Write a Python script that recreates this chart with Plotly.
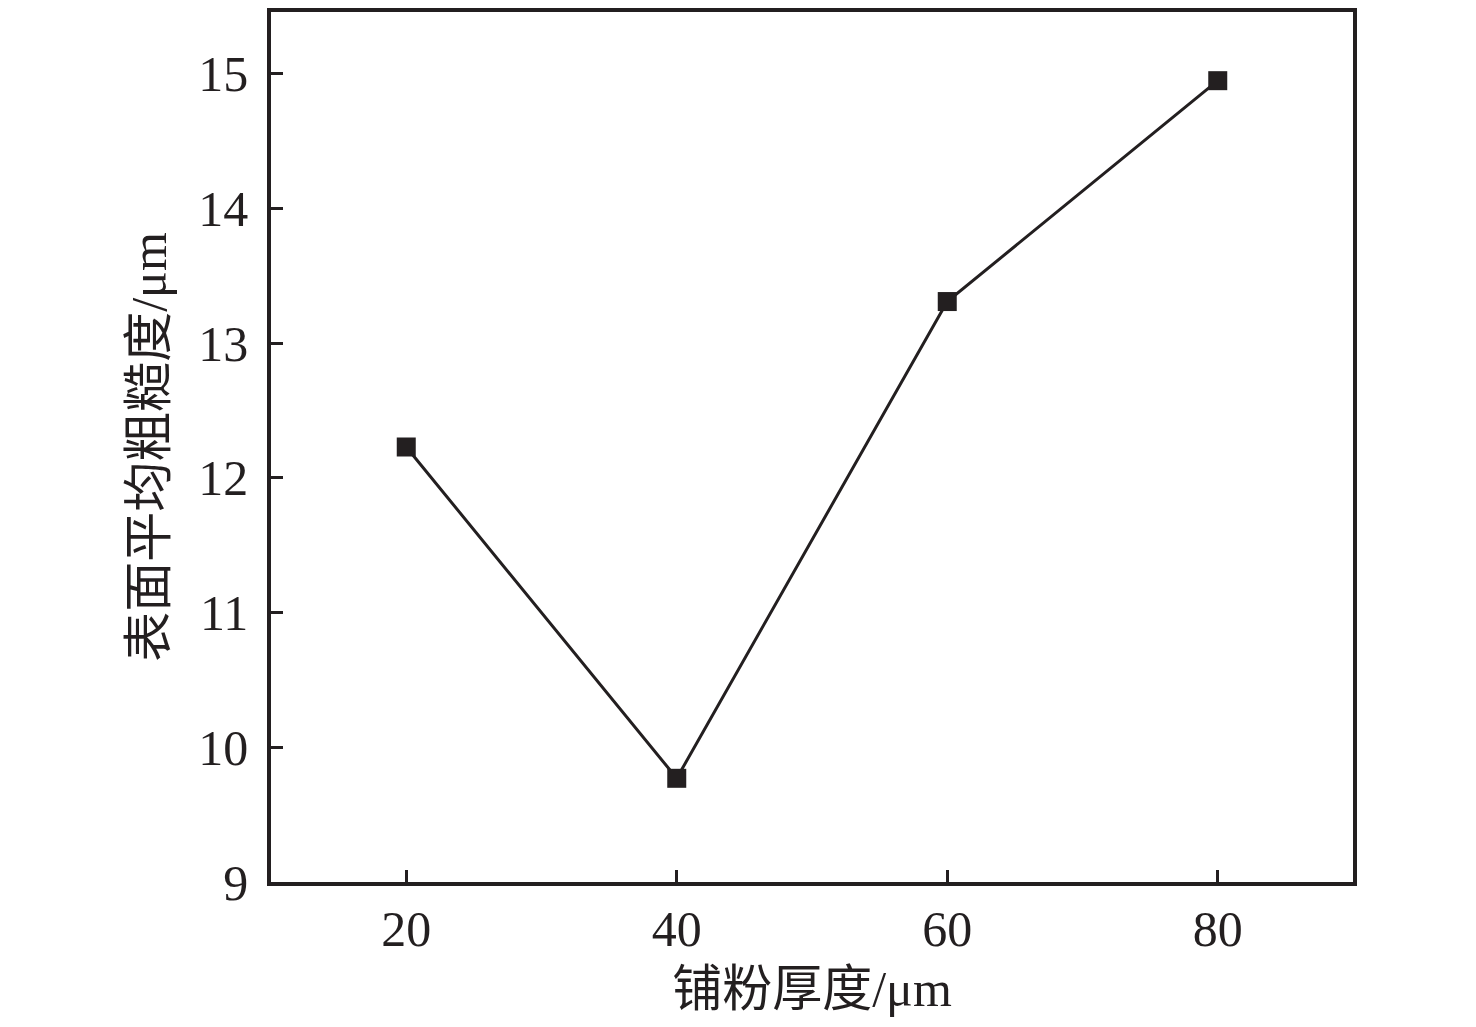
import plotly.graph_objects as go

# powder layer thickness (um) vs mean surface roughness (um)
thickness = [20, 40, 60, 80]
roughness = [12.23, 9.77, 13.31, 14.95]

x_ticks = [20, 40, 60, 80]
y_ticks = [9, 10, 11, 12, 13, 14, 15]

font_family = "Liberation Serif, Noto Sans CJK SC, serif"
ink = "#231f20"

fig = go.Figure()
fig.add_trace(go.Scatter(
    x=thickness, y=roughness,
    mode="lines+markers",
    line=dict(color=ink, width=3),
    marker=dict(symbol="square", size=19, color=ink),
    showlegend=False
))

axis_common = dict(
    showline=True, linecolor=ink, linewidth=3.5, mirror=True,
    ticks="inside", ticklen=12, tickwidth=3, tickcolor=ink,
    showgrid=False, zeroline=False,
    tickfont=dict(family=font_family, size=50, color=ink),
)

fig.update_xaxes(
    range=[10, 90], tickvals=x_ticks,
    title=dict(text="铺粉厚度/μm", font=dict(family=font_family, size=50, color=ink), standoff=16),
    ticklabelstandoff=0,
    **axis_common
)
fig.update_yaxes(
    range=[9, 15.46], tickvals=y_ticks,
    title=dict(text="表面平均粗糙度/μm", font=dict(family=font_family, size=50, color=ink), standoff=17),
    ticklabelstandoff=9,
    **axis_common
)

# the page adds an 8px body margin, so the figure is a bit smaller than the window
fig.update_layout(
    width=1460, height=1011,
    margin=dict(l=263, r=115, t=0, b=137),
    paper_bgcolor="white", plot_bgcolor="white",
    font=dict(family=font_family, color=ink),
)

fig.write_html("out.html")
